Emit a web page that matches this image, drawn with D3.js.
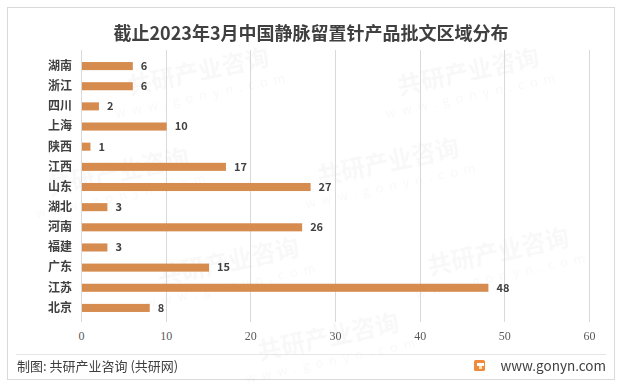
<!DOCTYPE html>
<html>
<head>
<meta charset="utf-8">
<script src="https://cdn.jsdelivr.net/npm/d3@7"></script>
<style>
  body { margin: 0; background: #fff; }
  svg { display: block; }
</style>
</head>
<body>
<svg id="svg1"></svg>
<script>
var regions = ['湖南', '浙江', '四川', '上海', '陕西', '江西', '山东', '湖北', '河南', '福建', '广东', '江苏', '北京'];
var counts = [6, 6, 2, 10, 1, 17, 27, 3, 26, 3, 15, 48, 8];
var xTicks = [0, 10, 20, 30, 40, 50, 60];
var titleText = '截止2023年3月中国静脉留置针产品批文区域分布';
var sourceText = '制图: 共研产业咨询 (共研网)';
var siteText = 'www.gonyn.com';

var W = 622, H = 388;
var svg = d3.select('#svg1').attr('width', W).attr('height', H);
var font = '"Microsoft YaHei", "Noto Sans CJK SC", sans-serif';

// outer frame
svg.append('rect')
    .attr('x', 7.5).attr('y', 7.5)
    .attr('width', 607).attr('height', 372)
    .attr('fill', '#fff')
    .attr('stroke', '#d9d9d9');

// faint watermarks, kept inside the frame
var wm = svg.append('g').attr('fill', '#000').attr('opacity', 0.03)
    .style('font-family', font).style('font-weight', 'bold');
[[200, 80], [470, 80], [120, 180], [390, 170], [230, 270], [500, 260], [330, 345]]
    .forEach(function(p) {
        var g = wm.append('g').attr('transform', 'translate(' + p[0] + ',' + p[1] + ') rotate(-12)');
        g.append('text').attr('text-anchor', 'middle').style('font-size', '24px').text('共研产业咨询');
        g.append('text').attr('text-anchor', 'middle').attr('y', 20).style('font-size', '13px')
            .style('font-weight', 'normal').style('letter-spacing', '6px').text('www.gonyn.com');
    });

svg.append('text')
    .attr('x', 311).attr('y', 40)
    .attr('text-anchor', 'middle')
    .style('font-family', font)
    .style('font-size', '18px')
    .style('font-weight', 'bold')
    .attr('fill', '#404040')
    .text(titleText);

var x = d3.scaleLinear().domain([0, 60]).range([81, 589]);
var y = d3.scaleBand().domain(regions).range([56, 318]).paddingInner(0.6).paddingOuter(0.3);

// gridlines
svg.append('g').selectAll('line').data(xTicks).enter().append('line')
    .attr('x1', function(d) { return Math.round(x(d)) + 0.5; })
    .attr('x2', function(d) { return Math.round(x(d)) + 0.5; })
    .attr('y1', 50).attr('y2', 322)
    .attr('stroke', '#d9d9d9');

svg.append('g').selectAll('rect').data(counts).enter().append('rect')
    .attr('x', x(0) + 1)
    .attr('y', function(d, i) { return y(regions[i]); })
    .attr('width', function(d) { return x(d) - x(0); })
    .attr('height', y.bandwidth())
    .attr('fill', '#d68b4f');

svg.append('g').selectAll('text').data(counts).enter().append('text')
    .attr('x', function(d) { return x(d) + 9; })
    .attr('y', function(d, i) { return y(regions[i]) + y.bandwidth() / 2; })
    .attr('dy', '0.35em')
    .style('font-family', font)
    .style('font-size', '11px')
    .style('font-weight', 'bold')
    .attr('fill', '#404040')
    .text(function(d) { return d; });

var yAxis = svg.append('g')
    .attr('transform', 'translate(72,0)')
    .call(d3.axisLeft(y).tickSize(0).tickPadding(0));
yAxis.select('.domain').remove();
yAxis.selectAll('text')
    .style('font-family', font)
    .style('font-size', '12px')
    .style('font-weight', 'bold')
    .attr('fill', '#404040');

var xAxis = svg.append('g')
    .attr('transform', 'translate(0,325)')
    .call(d3.axisBottom(x).tickValues(xTicks).tickSize(0).tickPadding(6));
xAxis.select('.domain').remove();
xAxis.selectAll('text')
    .style('font-family', '"Liberation Serif", serif')
    .style('font-size', '12px')
    .attr('fill', '#595959');

// footer
svg.append('line')
    .attr('x1', 16).attr('x2', 606)
    .attr('y1', 354.5).attr('y2', 354.5)
    .attr('stroke', '#e6e6e6');

svg.append('text')
    .attr('x', 17).attr('y', 371)
    .style('font-family', font)
    .style('font-size', '13px')
    .attr('fill', '#404040')
    .text(sourceText);

var logo = svg.append('g').attr('transform', 'translate(474,360)');
logo.append('rect').attr('width', 11).attr('height', 11).attr('rx', 1.5).attr('fill', '#f08a3c');
logo.append('rect').attr('x', 3).attr('y', 3).attr('width', 7).attr('height', 3).attr('fill', '#fff');
logo.append('rect').attr('x', 5).attr('y', 6).attr('width', 3).attr('height', 3).attr('fill', '#fde2b0');

svg.append('text')
    .attr('x', 606).attr('y', 371)
    .attr('text-anchor', 'end')
    .style('font-family', font)
    .style('font-size', '13.5px')
    .attr('fill', '#404040')
    .text(siteText);
</script>
</body>
</html>
